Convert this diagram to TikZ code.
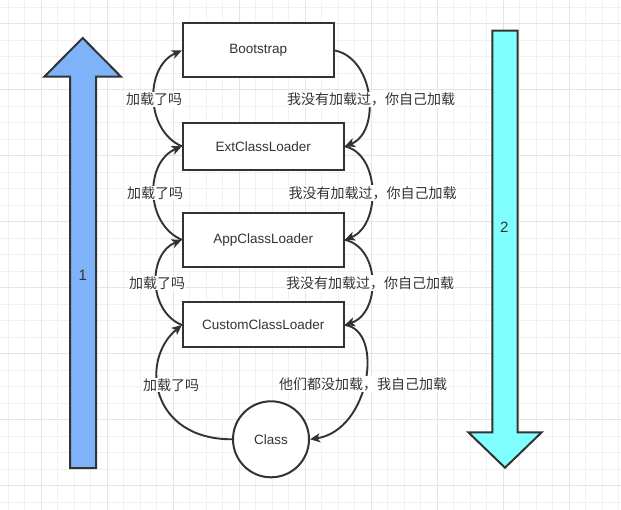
\documentclass[tikz,border=0pt]{standalone}
\usepackage{fontspec}
\setmainfont{Liberation Sans}
\newfontfamily\cjk{Noto Sans CJK SC}
\usepackage{tikz}
\usetikzlibrary{arrows.meta}

\definecolor{inkgray}{HTML}{333333}
\definecolor{gridminor}{HTML}{F1F1F1}
\definecolor{gridmajor}{HTML}{E5E5E5}
\definecolor{upblue}{HTML}{7EB3FA}
\definecolor{downcyan}{HTML}{80FFFF}

\begin{document}
\begin{tikzpicture}[x=1pt, y=1pt,
  loader/.style={draw=inkgray, line width=2pt, fill=white, minimum width=161pt,
    font=\fontsize{13.5}{16}\selectfont, text=inkgray},
  ask/.style={fill=white, inner sep=1pt, font=\cjk\fontsize{14}{16}\selectfont, text=inkgray},
  flow/.style={draw=inkgray, line width=1.9pt, -{Stealth[length=10pt,width=9pt,inset=2.5pt]}},
  bigarrow/.style={draw=inkgray, line width=2pt, line join=miter},
  digit/.style={font=\fontsize{15}{18}\selectfont, text=inkgray}]
\useasboundingbox (0,0) rectangle (621,-510);
\fill[white] (0,0) rectangle (621,-510);

% grid
\foreach \i in {0,...,37}
  \draw[gridminor, line width=0.8pt] (8.3+16.5*\i,0) -- (8.3+16.5*\i,-510);
\foreach \i in {0,...,30}
  \draw[gridminor, line width=0.8pt] (0,-7.2-16.5*\i) -- (621,-7.2-16.5*\i);
\foreach \i in {2,6,...,34}
  \draw[gridmajor, line width=0.8pt] (8.3+16.5*\i,0) -- (8.3+16.5*\i,-510);
\foreach \i in {1,5,...,29}
  \draw[gridmajor, line width=0.8pt] (0,-7.2-16.5*\i) -- (621,-7.2-16.5*\i);

% big arrows
\filldraw[bigarrow, fill=upblue] (82.7,-38) -- (121,-76.7) -- (96,-76.7) -- (96,-468)
  -- (70,-468) -- (70,-76.7) -- (44.3,-76.7) -- cycle;
\node[digit] (one) at (82.7,-275.7) {1};
\filldraw[bigarrow, fill=downcyan] (492.3,-30.7) -- (517.7,-30.7) -- (517.7,-432.3)
  -- (541.7,-432.3) -- (505,-467.7) -- (468.3,-432.3) -- (492.3,-432.3) -- cycle;
\node[digit] (two) at (504.3,-227.7) {2};

% loaders
\node[loader, minimum width=151pt, minimum height=54pt] (boot) at (258.3,-50.5) {Bootstrap};
\node[loader, minimum height=47.5pt] (ext) at (263.3,-146.3) {ExtClassLoader};
\node[loader, minimum height=53.5pt] (app) at (263.3,-239.8) {AppClassLoader};
\node[loader, minimum height=45pt] (custom) at (263.3,-325) {CustomClassLoader};
\node[loader, circle, minimum width=76pt, minimum height=76pt] (cls) at (271,-439.3) {Class};

% delegation
\draw[flow] (ext.west) .. controls +(-37,16) and +(-37,-16) .. (boot.west);
\draw[flow] (boot.east) .. controls +(40,-8) and +(36,14) .. (ext.east);
\draw[flow] (app.west) .. controls +(-37,16) and +(-37,-16) .. (ext.west);
\draw[flow] (ext.east) .. controls +(36,-8) and +(36,14) .. (app.east);
\draw[flow] (custom.west) .. controls +(-34,14) and +(-34,-14) .. (app.west);
\draw[flow] (app.east) .. controls +(36,-8) and +(36,12) .. (custom.east);
\draw[flow] (cls.west) .. controls +(-82,0) and +(-42,-35) .. (custom.west);
\draw[flow] (custom.east) .. controls +(40,-5) and +(60,9) .. (cls.east);

% labels
\node[ask] (ask1) at (154,-99.5) {加载了吗};
\node[ask] (tell1) at (371,-99.5) {我没有加载过，你自己加载};
\node[ask] (ask2) at (155,-193) {加载了吗};
\node[ask] (tell2) at (372.5,-193) {我没有加载过，你自己加载};
\node[ask] (ask3) at (157,-283) {加载了吗};
\node[ask] (tell3) at (370,-283) {我没有加载过，你自己加载};
\node[ask] (ask4) at (171,-385) {加载了吗};
\node[ask] (tell4) at (363,-384) {他们都没加载，我自己加载};
\end{tikzpicture}
\end{document}
